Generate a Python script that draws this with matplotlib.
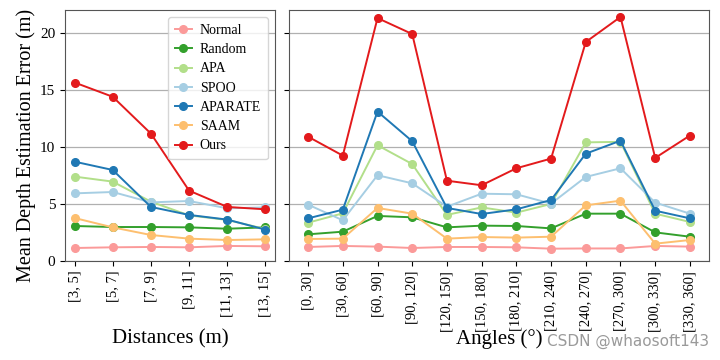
import matplotlib
matplotlib.use("Agg")
import matplotlib.pyplot as plt

plt.rcParams["font.family"] = ["Liberation Serif", "DejaVu Serif"]

methods = ["Normal", "Random", "APA", "SPOO", "APARATE", "SAAM", "Ours"]
colors = ["#fb9a99", "#33a02c", "#b2df8a", "#a6cee3", "#1f78b4", "#fdbf6f", "#e31a1c"]

dist_labels = ["[3, 5]", "[5, 7]", "[7, 9]", "[9, 11]", "[11, 13]", "[13, 15]"]
dist_normal = [1.14, 1.2, 1.23, 1.2, 1.32, 1.29]
dist_random = [3.07, 2.98, 2.98, 2.95, 2.83, 2.95]
dist_apa = [7.4, 6.96, 5.2, 4.0, 3.6, 2.8]
dist_spoo = [5.93, 6.05, 5.14, 5.26, 4.62, 4.7]
dist_aparate = [8.71, 7.98, 4.74, 4.04, 3.63, 2.75]
dist_saam = [3.77, 2.95, 2.28, 1.96, 1.84, 1.9]
dist_ours = [15.65, 14.4, 11.17, 6.17, 4.74, 4.53]

angle_labels = ["[0, 30]", "[30, 60]", "[60, 90]", "[90, 120]", "[120, 150]", "[150, 180]",
                "[180, 210]", "[210, 240]", "[240, 270]", "[270, 300]", "[300, 330]", "[330, 360]"]
ang_normal = [1.23, 1.32, 1.26, 1.14, 1.23, 1.23, 1.2, 1.08, 1.1, 1.1, 1.32, 1.26]
ang_random = [2.34, 2.57, 3.95, 3.83, 2.95, 3.1, 3.07, 2.86, 4.15, 4.15, 2.51, 2.13]
ang_apa = [3.36, 4.18, 10.15, 8.5, 4.04, 4.7, 4.24, 5.0, 10.4, 10.45, 4.15, 3.42]
ang_spoo = [4.94, 3.57, 7.52, 6.81, 4.76, 5.9, 5.85, 5.03, 7.37, 8.13, 5.12, 4.15]
ang_aparate = [3.74, 4.5, 13.1, 10.5, 4.65, 4.12, 4.53, 5.35, 9.41, 10.55, 4.41, 3.74]
ang_saam = [1.93, 1.96, 4.65, 4.15, 1.96, 2.1, 2.05, 2.13, 4.88, 5.29, 1.52, 1.84]
ang_ours = [10.9, 9.24, 21.3, 19.9, 7.04, 6.64, 8.13, 8.98, 19.2, 21.4, 9.04, 11.0]

dist_series = [dist_normal, dist_random, dist_apa, dist_spoo, dist_aparate, dist_saam, dist_ours]
ang_series = [ang_normal, ang_random, ang_apa, ang_spoo, ang_aparate, ang_saam, ang_ours]

fig = plt.figure(figsize=(7.2, 3.6), dpi=100)
ax1 = fig.add_axes([65 / 720, 0.275, 210 / 720, 0.697])
ax2 = fig.add_axes([289 / 720, 0.275, 420 / 720, 0.697], sharey=ax1)


def draw(ax, labels, series, xlabel):
    x = range(len(labels))
    for name, vals, c in zip(methods, series, colors):
        ax.plot(x, vals, marker="o", markersize=5.5, linewidth=1.4, color=c, label=name)
    ax.set_xticks(list(x))
    ax.set_xticklabels(labels, rotation=90, fontsize=10.5)
    ax.grid(axis="y", color="#b0b0b0", linewidth=0.9)
    ax.set_axisbelow(True)
    for s in ax.spines.values():
        s.set_color("#555555")
    ax.set_xlabel(xlabel, fontsize=15)
    ax.xaxis.set_label_coords(0.5, -0.27)


draw(ax1, dist_labels, dist_series, "Distances (m)")
draw(ax2, angle_labels, ang_series, "Angles (°)")

ax1.set_ylim(0, 22)
ax1.set_yticks([0, 5, 10, 15, 20])
ax1.tick_params(axis="y", labelsize=11)
ax2.tick_params(axis="y", labelleft=False)
ax1.set_ylabel("Mean Depth Estimation Error (m)", fontsize=14.5)
ax1.yaxis.set_label_coords(-0.14, 0.46)
ax1.legend(loc="upper right", fontsize=10, handlelength=1.2, handletextpad=0.6,
           borderpad=0.5, labelspacing=0.45)

fig.text(0.985, 0.03, "CSDN @whaosoft143", ha="right", va="bottom", fontsize=11,
         color="#9a9a9a", family="DejaVu Sans")

fig.savefig("out.png", dpi=100)
